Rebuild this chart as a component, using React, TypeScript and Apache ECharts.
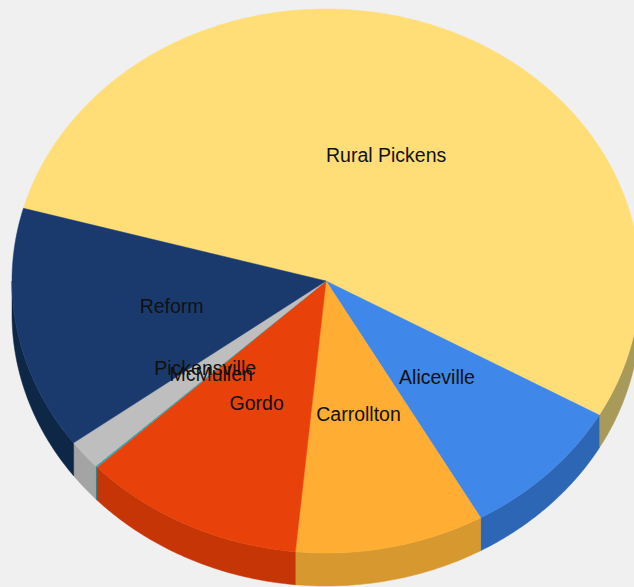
import React, { useEffect, useRef } from "react";
import * as echarts from "echarts";

const categories = ["Rural Pickens", "Aliceville", "Carrollton", "Gordo", "McMullen", "Pickensville", "Reform"];
const values = [53.9, 8.6, 9.75, 11.45, 0.1, 1.75, 14.45];
const topColors = ["#FFDD77", "#3F87E8", "#FFAE33", "#E8420A", "#3FA0A8", "#BEBEBE", "#1A3A6E"];
const sideColors = ["#A89A58", "#2C66B4", "#D6982F", "#C63506", "#2F7F86", "#A4A4A4", "#0F2747"];

const START_DEG = 285.5;
const CX = 326;
const CY = 281;
const RX = 314;
const RY = 272;
const DEPTH = 33;

const total = values.reduce((a, b) => a + b, 0);
const startOf = (idx: number) =>
  START_DEG + (values.slice(0, idx).reduce((a, b) => a + b, 0) / total) * 360;
const pt = (deg: number, f = 1, dy = 0): number[] => {
  const r = (deg * Math.PI) / 180;
  return [CX + Math.sin(r) * RX * f, CY - Math.cos(r) * RY * f + dy];
};
const arc = (a: number, b: number, dy = 0) => {
  const n = Math.max(2, Math.ceil((b - a) / 0.5));
  const out: number[][] = [];
  for (let i = 0; i <= n; i++) out.push(pt(a + ((b - a) * i) / n, 1, dy));
  return out;
};

const chartData = categories.map((name, i) => ({ name, value: values[i] }));

export default function App() {
  const ref = useRef<HTMLDivElement>(null);
  useEffect(() => {
    const chart = echarts.init(ref.current!, null, { renderer: "svg" });
    chart.setOption({
      animation: false,
      backgroundColor: "#F0F0F0",
      series: [
        {
          type: "custom",
          coordinateSystem: "none",
          silent: true,
          z: 1,
          data: chartData,
          renderItem: (p: any) => {
            const i = p.dataIndex;
            const a = startOf(i);
            const b = startOf(i + 1);
            const walls: any[] = [];
            // the front half of the rim, unrolled over full turns
            for (const shift of [0, 360]) {
              const lo = Math.max(a, 90 + shift);
              const hi = Math.min(b, 270 + shift);
              if (hi > lo) {
                const upper = arc(lo, hi);
                const lower = arc(lo, hi, DEPTH).reverse();
                walls.push({
                  type: "polygon",
                  shape: { points: [...upper, ...lower] },
                  style: { fill: sideColors[i], stroke: sideColors[i], lineWidth: 0.5 },
                });
              }
            }
            return { type: "group", children: walls };
          },
        },
        {
          type: "custom",
          coordinateSystem: "none",
          silent: true,
          z: 2,
          data: chartData,
          renderItem: (p: any) => {
            const i = p.dataIndex;
            const a = startOf(i);
            const b = startOf(i + 1);
            return {
              type: "polygon",
              shape: { points: [[CX, CY], ...arc(a, b)] },
              style: { fill: topColors[i], stroke: topColors[i], lineWidth: 0.5 },
            };
          },
        },
        {
          type: "custom",
          coordinateSystem: "none",
          silent: true,
          z: 3,
          data: chartData,
          renderItem: (p: any) => {
            const i = p.dataIndex;
            const [x, y] = pt((startOf(i) + startOf(i + 1)) / 2, 0.5);
            return {
              type: "text",
              x,
              y,
              style: {
                text: categories[i],
                fill: "#111111",
                font: '19.5px "Liberation Sans"',
                align: "center",
                verticalAlign: "middle",
              },
            };
          },
        },
      ],
    });
    return () => chart.dispose();
  }, []);
  return <div ref={ref} style={{ position: "fixed", left: 0, top: 0, width: 634, height: 587 }} />;
}
